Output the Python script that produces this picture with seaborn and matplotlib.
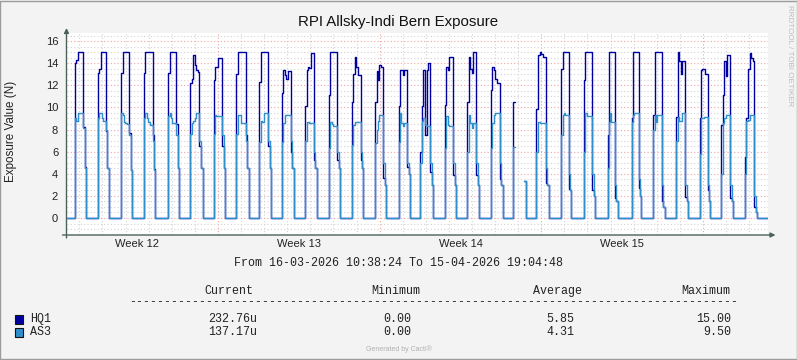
import numpy as np
import pandas as pd
import matplotlib
matplotlib.use('Agg')
import matplotlib.pyplot as plt
import matplotlib.transforms as mtransforms
from matplotlib.patches import Rectangle
from matplotlib.ticker import MultipleLocator
import seaborn as sns

nan = np.nan

# time axis in hours since 16-03-2026 00:00
t_start = 10 + 38/60 + 24/3600      # 16-03-2026 10:38:24
t_end = 30*24 + 19 + 4/60 + 48/3600  # 15-04-2026 19:04:48

# one entry per night (16-03 .. 14-04): hour the camera goes dark, hour (next morning, +24) it goes back
night_on = [19.2, 19.1, 19.7, 19.0, 20.3, 19.2, 19.4, 19.1, 19.0, 18.6,
            18.6, 19.5, 19.1, 19.4, 19.7, 17.8, 19.9, 19.2, 19.4, 19.0,
            19.0, 21.0, 20.5, 20.9, 21.9, 20.3, 20.3, 20.6, 19.1, 19.5]
night_off = [30.9, 30.6, 30.8, 31.1, 31.5, 32.0, 31.6, 31.9, 31.2, 30.7,
             30.6, 31.0, 31.2, 30.5, 31.8, 31.8, 31.3, 31.7, 31.9, 32.2,
             31.8, 31.4, 31.7, 31.3, 31.5, 32.2, 32.5, 31.7, 31.6, 32.6]

# exposure steps through each night
hq1_nights = [
    [14.0, 14.3, 15, 15, 15, 15, 8.2, 4.6],
    [13.1, 13.5, 15, 15, 15, 15, 7.9, 4.5],
    [13.1, 15, 15, 15, 15, 15, 7.7, 4.3],
    [13.1, 15, 15, 15, 15, 15, 7.5, 4.4],
    [13.1, 15, 15, 15, 15, 15, 8.5, 4.5],
    [12.2, 12.6, 14.7, 13.8, 13.4, 13.2, 6.5, 4.5],
    [12.5, 13.7, 13.7, 14.5, 14.5, 14.5, 6.5, 4.5],
    [13.0, 15, 15, 15, 15, 15, 7.5, 4.5],
    [12.3, 15, 15, 15, 15, 15, 6.5, 4.5],
    [11.3, 13.4, 12.9, 12.6, 13.3, 13.3, 6.0, 4.5],
    [10.1, 13.4, 13.7, 13.6, 14.9, 14.9, 5.2, 4.5],
    [11.1, 15, 15, 15, 15, 15, 5.2, 4.5],
    [10.5, 13.0, 14.6, 13.7, 12.9, 12.9, 5.2, 4.5],
    [10.5, 13.3, 12.5, 13.8, 13.7, 13.7, 3.6, 3.0],
    [10.1, 13.4, 13.4, 12.9, 13.4, 13.4, 4.6, 4.0],
    [6.0, 10.1, 13.4, 7.5, 13.4, 14.0, 4.2, 3.0],
    [10.2, 13.7, 13.4, 14.6, 14.6, 14.6, 3.9, 3.0],
    [10.5, 14.6, 13.5, 13.1, 15.0, 15.0, 3.9, 3.0],
    [11.6, 13.7, 13.4, 12.6, 12.2, 12.2, 3.5, 3.0],
    [10.5, nan, nan, nan, nan, nan, nan, 3.3],
    [9.9, 14.7, 15.0, 14.8, 14.6, 14.6, 3.2, 3.0],
    [13.5, 15, 15, 15, 15, 15, 2.6, 2.5],
    [12.5, 15, 15, 15, 15, 15, 2.5, 2.0],
    [7.5, 15, 15, 15, 15, 15, 1.8, 1.5],
    [9.0, 15, 15, 15, 15, 15, 2.7, 2.0],
    [9.3, 15, 15, 15, 15, 15, 1.5, 1.0],
    [9.1, 15.0, 14.2, 13.0, 14.2, 14.2, 1.9, 1.5],
    [9.0, 13.4, 13.5, 13.5, 13.0, 13.0, 2.5, 1.5],
    [8.4, 11.1, 14.2, 12.8, 14.7, 14.7, 1.8, 1.5],
    [5.5, 9.0, 13.5, 14.9, 14.5, 14.2, 1.0, 0.5],
]
as3_nights = [
    [9.0, 8.8, 9.5, 9.5, 9.5, 9.5, 8.1, 4.5],
    [9.0, 9.5, 9.5, 9.0, 8.8, 8.8, 8.0, 4.5],
    [9.5, 9.3, 8.7, 8.6, 8.5, 8.5, 7.5, 4.3],
    [9.0, 9.5, 9.0, 8.7, 8.4, 8.4, 7.0, 4.3],
    [9.2, 9.5, 9.0, 8.6, 8.6, 8.6, 7.5, 4.5],
    [7.6, 8.6, 8.8, 9.0, 9.5, 9.5, 7.0, 4.5],
    [7.6, 9.3, 9.2, 9.2, 9.2, 9.2, 7.5, 4.5],
    [7.6, 9.3, 9.3, 8.6, 8.6, 8.6, 7.0, 4.5],
    [6.9, 8.8, 8.7, 9.5, 9.5, 9.5, 7.0, 4.5],
    [6.9, 8.6, 9.3, 9.3, 9.3, 9.3, 7.0, 4.5],
    [7.0, 8.7, 8.7, 8.6, 8.6, 8.6, 6.0, 4.5],
    [6.3, 8.7, 8.5, 8.3, 8.3, 8.3, 6.0, 4.5],
    [6.6, 8.4, 8.7, 8.7, 8.7, 8.7, 6.0, 4.5],
    [6.8, 8.0, 8.8, 9.3, 9.3, 9.3, 5.0, 3.0],
    [6.9, 9.5, 8.6, 8.3, 8.6, 8.6, 5.0, 4.0],
    [5.0, 8.8, 9.0, 8.4, 8.3, 8.3, 5.0, 3.0],
    [6.3, 9.2, 8.4, 8.3, 8.3, 8.3, 5.0, 3.0],
    [6.0, 9.3, 8.6, 8.1, 8.6, 8.6, 5.0, 3.0],
    [6.3, 8.6, 9.3, 9.5, 9.5, 9.5, 5.0, 3.0],
    [6.4, nan, nan, nan, nan, nan, nan, 3.3],
    [6.0, 8.7, 8.6, 8.6, 8.6, 8.6, 4.5, 3.0],
    [7.5, 9.3, 9.5, 9.3, 9.3, 9.3, 4.0, 2.5],
    [6.0, 9.5, 9.2, 9.2, 9.2, 9.2, 4.0, 2.0],
    [4.5, 8.7, 9.5, 8.7, 8.7, 8.7, 3.0, 1.5],
    [8.7, 9.3, 9.5, 9.5, 9.5, 9.5, 3.5, 2.0],
    [8.0, 9.3, 8.7, 9.3, 9.3, 9.3, 3.0, 1.0],
    [7.0, 9.1, 8.8, 8.8, 9.5, 9.5, 3.0, 1.5],
    [5.8, 9.0, 9.0, 9.1, 9.1, 9.1, 3.0, 1.5],
    [4.0, 8.6, 9.0, 9.3, 9.3, 9.3, 3.0, 1.5],
    [4.0, 8.8, 8.9, 9.3, 9.3, 9.3, 2.0, 0.5],
]

week_labels = ['Week 12', 'Week 13', 'Week 14', 'Week 15']
week_starts = [0, 168, 336, 504]   # Monday 00:00 of each ISO week, hours

series_names = ['HQ1', 'AS3']
series_colors = ['#0000A0', '#2F8FCC']
stat_current = ['232.76u', '137.17u']
stat_minimum = ['0.00', '0.00']
stat_average = ['5.85', '4.31']
stat_maximum = ['15.00', '9.50']


def build_series(levels):
    # turn the per-night steps into a step series, NaN splits it into segments
    xs, ys, seg = [t_start], [0.0], [0]
    s = 0
    gap = False
    for k, lv in enumerate(levels):
        t0 = 24*k + night_on[k]
        t1 = 24*k + night_off[k]
        edges = np.linspace(t0, t1, len(lv) + 1)
        for e, v in zip(edges[:-1], lv):
            if np.isnan(v):
                if not gap:
                    xs.append(e); ys.append(ys[-1]); seg.append(s)
                    s += 1
                    gap = True
                continue
            gap = False
            xs.append(e); ys.append(v); seg.append(s)
        xs.append(t1); ys.append(0.0); seg.append(s)
    xs.append(t_end); ys.append(0.0); seg.append(s)
    return pd.DataFrame({'t': xs, 'value': ys, 'seg': seg})


sns.set_style('white')
plt.rcParams['font.family'] = ['Liberation Sans', 'DejaVu Sans']

W, H = 797, 360
fig = plt.figure(figsize=(W/100, H/100), dpi=100, facecolor='#F3F3F3')


def px(x, y):
    return x / W, 1 - y / H


left, right, top, bottom = 66.5, 767.5, 33, 235
ax = fig.add_axes([left/W, 1 - bottom/H, (right-left)/W, (bottom-top)/H])
ax.set_facecolor('white')

axis_col = '#4A6258'

# grid
ax.set_xlim(t_start, t_end)
ax.set_ylim(-1.54, 16.73)
ax.yaxis.set_major_locator(MultipleLocator(2))
ax.yaxis.set_minor_locator(MultipleLocator(0.5))
ax.set_xticks([168, 336, 504, 672])
ax.set_xticks(np.arange(24, t_end, 24), minor=True)
ax.set_xticklabels([])
ax.grid(which='major', color='#F0A3A3', linestyle=(0, (1, 2)), linewidth=0.8)
ax.grid(which='minor', color='#D3D3D3', linestyle=(0, (1, 2)), linewidth=0.8)
ax.set_axisbelow(True)
for sp in ax.spines.values():
    sp.set_visible(False)
ax.tick_params(axis='y', which='major', length=2, width=0.8, color=axis_col,
               labelsize=8, labelcolor='#222222', pad=4)
ax.tick_params(axis='y', which='minor', length=1, width=0.6, color=axis_col)
ax.tick_params(axis='x', which='both', length=2, width=0.6, color=axis_col, direction='in')

# data
for name, levels, col in zip(series_names, [hq1_nights, as3_nights], series_colors):
    df = build_series(levels)
    sns.lineplot(data=df, x='t', y='value', units='seg', estimator=None, sort=False,
                 color=col, linewidth=1.0, drawstyle='steps-post', ax=ax, legend=False)
ax.set_xlabel('')
ax.set_ylabel('')

# axes with arrows (figure pixels count from the bottom)
arrow = dict(arrowstyle='-|>', color=axis_col, lw=1, mutation_scale=7, shrinkA=0, shrinkB=0)
ax.annotate('', xy=(right + 8, H - bottom), xytext=(left - 4, H - bottom),
            xycoords='figure pixels', textcoords='figure pixels', arrowprops=arrow)
ax.annotate('', xy=(left, H - 28), xytext=(left, H - bottom - 3),
            xycoords='figure pixels', textcoords='figure pixels', arrowprops=arrow)

# week labels at the middle of each week
trans = mtransforms.blended_transform_factory(ax.transData, ax.transAxes)
for lab, ws in zip(week_labels, week_starts):
    ax.text(ws + 84, -0.045, lab, transform=trans, ha='center', va='center',
            fontsize=8, color='#222222')

# texts
fig.text(*px(398, 22), 'RPI Allsky-Indi Bern Exposure', ha='center', va='center',
         fontsize=10.8, color='#111111')
fig.text(*px(11, 131), 'Exposure Value (N)', rotation=90, ha='center', va='center',
         fontsize=8.4, color='#222222')
fig.text(*px(789, 56), 'RRDTOOL / TOBI OETIKER', rotation=270, ha='center', va='center',
         fontsize=5.8, color='#BDBDBD')
fig.text(*px(399, 349), 'Generated by Cacti®', ha='center', va='center',
         fontsize=5, color='#B0B0B0')

mono = dict(family='Liberation Mono', fontsize=8.4, color='#222222', va='center')
fig.text(*px(398, 263), 'From 16-03-2026 10:38:24 To 15-04-2026 19:04:48', ha='center', **mono)
for lab, xr in zip(['Current', 'Minimum', 'Average', 'Maximum'], [253, 420, 582, 730]):
    fig.text(*px(xr, 291), lab, ha='right', **mono)
fig.text(*px(129, 302), '-' * 87, ha='left', **mono)

for i, (name, col) in enumerate(zip(series_names, series_colors)):
    yr = 319 + 13 * i
    fig.patches.append(Rectangle(px(15, yr + 5), 8 / W, 9 / H, transform=fig.transFigure,
                                 facecolor=col, edgecolor='#111111', linewidth=0.8))
    fig.text(*px(30, yr), name, ha='left', **mono)
    for val, xr in zip([stat_current[i], stat_minimum[i], stat_average[i], stat_maximum[i]],
                       [257, 411, 574, 731]):
        fig.text(*px(xr, yr), val, ha='right', **mono)

# frame round the image
fig.patches.append(Rectangle((0.0006, 0.0014), 0.9988, 0.997, transform=fig.transFigure,
                             fill=False, edgecolor='#9C9C9C', linewidth=1))

fig.savefig('out.png', dpi=100, facecolor=fig.get_facecolor())
